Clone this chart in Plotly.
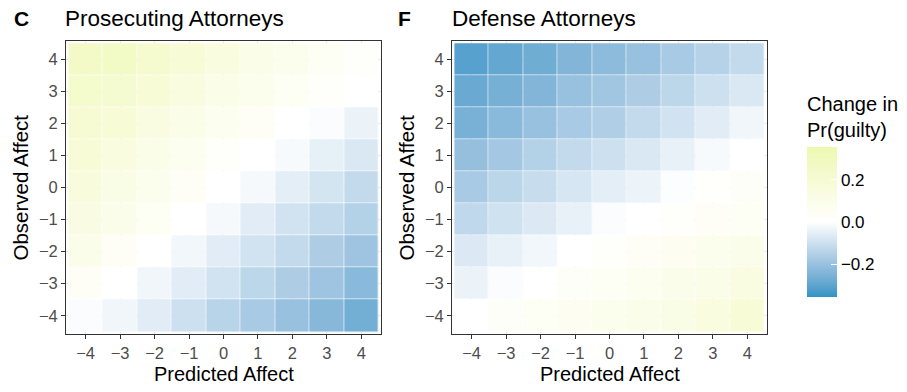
import plotly.graph_objects as go

# ---------------- data ----------------
predicted_affect = [-4, -3, -2, -1, 0, 1, 2, 3, 4]
observed_affect = [4, 3, 2, 1, 0, -1, -2, -3, -4]
tick_labels = ["\u22124", "\u22123", "\u22122", "\u22121", "0", "1", "2", "3", "4"]

# rows: observed affect 4 .. -4 ; columns: predicted affect -4 .. 4
prosecuting = [
    [0.25, 0.26, 0.22, 0.18, 0.15, 0.11, 0.08, 0.05, 0.02],
    [0.23, 0.21, 0.18, 0.15, 0.11, 0.08, 0.05, 0.02, 0.00],
    [0.20, 0.18, 0.14, 0.11, 0.07, 0.04, 0.00, -0.01, -0.04],
    [0.18, 0.15, 0.11, 0.07, 0.02, 0.00, -0.015, -0.05, -0.075],
    [0.16, 0.12, 0.08, 0.04, 0.00, -0.02, -0.055, -0.085, -0.12],
    [0.13, 0.09, 0.05, 0.00, -0.02, -0.06, -0.09, -0.12, -0.15],
    [0.09, 0.04, 0.00, -0.025, -0.06, -0.09, -0.12, -0.16, -0.19],
    [0.04, 0.00, -0.03, -0.06, -0.09, -0.13, -0.16, -0.19, -0.225],
    [-0.01, -0.03, -0.06, -0.10, -0.14, -0.17, -0.20, -0.23, -0.265],
]
defense = [
    [-0.31, -0.29, -0.27, -0.24, -0.22, -0.20, -0.17, -0.145, -0.12],
    [-0.28, -0.26, -0.24, -0.20, -0.185, -0.16, -0.13, -0.10, -0.075],
    [-0.255, -0.225, -0.20, -0.17, -0.155, -0.12, -0.09, -0.06, -0.03],
    [-0.205, -0.18, -0.15, -0.12, -0.10, -0.075, -0.045, -0.015, 0.00],
    [-0.17, -0.135, -0.11, -0.08, -0.055, -0.035, -0.005, 0.015, 0.03],
    [-0.125, -0.095, -0.07, -0.045, -0.01, 0.00, 0.02, 0.035, 0.05],
    [-0.07, -0.045, -0.025, 0.00, 0.02, 0.04, 0.06, 0.08, 0.09],
    [-0.04, -0.01, 0.00, 0.03, 0.05, 0.07, 0.09, 0.11, 0.14],
    [0.00, 0.03, 0.05, 0.06, 0.08, 0.10, 0.12, 0.15, 0.18],
]
scale_min, scale_max = -0.355, 0.355
cbar_vals = [-0.2, 0.0, 0.2]
cbar_text = ["\u22120.2", "0.0", "0.2"]

# ---------------- colour scale (Lab interpolation like ggplot) ----------------
LOW, MID, HIGH = "#2f94c6", "#ffffff", "#edf8b1"


def hex_to_rgb(h):
    h = h.lstrip("#")
    return [int(h[i:i + 2], 16) / 255 for i in (0, 2, 4)]


def srgb_to_lin(c):
    return c / 12.92 if c <= 0.04045 else ((c + 0.055) / 1.055) ** 2.4


def lin_to_srgb(c):
    c = max(0.0, min(1.0, c))
    return 12.92 * c if c <= 0.0031308 else 1.055 * c ** (1 / 2.4) - 0.055


def rgb_to_lab(rgb):
    r, g, b = [srgb_to_lin(c) for c in rgb]
    x = (0.4124 * r + 0.3576 * g + 0.1805 * b) / 0.95047
    y = (0.2126 * r + 0.7152 * g + 0.0722 * b)
    z = (0.0193 * r + 0.1192 * g + 0.9505 * b) / 1.08883

    def f(t):
        return t ** (1 / 3) if t > 0.008856 else 7.787 * t + 16 / 116
    fx, fy, fz = f(x), f(y), f(z)
    return [116 * fy - 16, 500 * (fx - fy), 200 * (fy - fz)]


def lab_to_rgb(lab):
    L, a, b = lab
    fy = (L + 16) / 116
    fx = fy + a / 500
    fz = fy - b / 200

    def finv(t):
        return t ** 3 if t ** 3 > 0.008856 else (t - 16 / 116) / 7.787
    x, y, z = finv(fx) * 0.95047, finv(fy), finv(fz) * 1.08883
    r = 3.2406 * x - 1.5372 * y - 0.4986 * z
    g = -0.9689 * x + 1.8758 * y + 0.0415 * z
    bb = 0.0557 * x - 0.2040 * y + 1.0570 * z
    return "rgb(%d,%d,%d)" % tuple(round(lin_to_srgb(c) * 255) for c in (r, g, bb))


def build_scale(n=10):
    lo, mi, hi = (rgb_to_lab(hex_to_rgb(c)) for c in (LOW, MID, HIGH))
    stops = []
    for i in range(n + 1):
        t = i / n
        stops.append([t / 2, lab_to_rgb([lo[k] + (mi[k] - lo[k]) * t for k in range(3)])])
    for i in range(1, n + 1):
        t = i / n
        stops.append([0.5 + t / 2, lab_to_rgb([mi[k] + (hi[k] - mi[k]) * t for k in range(3)])])
    return stops


colorscale = build_scale()

# ---------------- figure ----------------
W, H = 907, 392
FONT = "Liberation Sans, Arial, sans-serif"
fig = go.Figure()
fig.add_trace(go.Heatmap(x=predicted_affect, y=observed_affect, z=prosecuting,
                         coloraxis="coloraxis", xgap=0.6, ygap=0.6,
                         xaxis="x", yaxis="y"))
fig.add_trace(go.Heatmap(x=predicted_affect, y=observed_affect, z=defense,
                         coloraxis="coloraxis", xgap=0.6, ygap=0.6,
                         xaxis="x2", yaxis="y2"))

panel_top, panel_bot = 41, 334
ydom = [1 - panel_bot / H, 1 - panel_top / H]
c_dom = [66 / W, 381 / W]
f_dom = [452 / W, 767 / W]

axis_common = dict(
    range=[-4.57, 4.57], tickvals=predicted_affect, ticktext=tick_labels,
    ticks="outside", ticklen=4, tickwidth=1, tickcolor="#333333",
    tickfont=dict(family=FONT, size=16.5, color="#4d4d4d"),
    showline=True, mirror=True, linecolor="#333333", linewidth=1,
    showgrid=True, gridcolor="#ebebeb", zeroline=False, fixedrange=True,
)

fig.update_layout(
    width=W, height=H, margin=dict(l=0, r=0, t=0, b=0),
    paper_bgcolor="white", plot_bgcolor="white",
    font=dict(family=FONT, color="black"),
    xaxis=dict(domain=c_dom, anchor="y", **axis_common),
    yaxis=dict(domain=ydom, anchor="x", **axis_common),
    xaxis2=dict(domain=f_dom, anchor="y2", **axis_common),
    yaxis2=dict(domain=ydom, anchor="x2", **axis_common),
    coloraxis=dict(
        colorscale=colorscale, cmin=scale_min, cmax=scale_max,
        colorbar=dict(
            x=807 / W, xanchor="left", y=1 - 222 / H, yanchor="middle",
            len=150, lenmode="pixels", thickness=30, thicknessmode="pixels",
            outlinewidth=0, ticks="inside", ticklen=6, tickcolor="white",
            tickvals=cbar_vals, ticktext=cbar_text,
            tickfont=dict(family=FONT, size=17, color="black"), ypad=0, xpad=0,
        ),
    ),
)

ann = []
title_y = 1 - 19 / H
ann.append(dict(text="<b>C</b>", x=12 / W, y=title_y, xref="paper", yref="paper",
                xanchor="left", yanchor="middle", showarrow=False, font=dict(size=21)))
ann.append(dict(text="Prosecuting Attorneys", x=63 / W, y=title_y, xref="paper", yref="paper",
                xanchor="left", yanchor="middle", showarrow=False, font=dict(size=22.5)))
ann.append(dict(text="<b>F</b>", x=396 / W, y=title_y, xref="paper", yref="paper",
                xanchor="left", yanchor="middle", showarrow=False, font=dict(size=21)))
ann.append(dict(text="Defense Attorneys", x=450 / W, y=title_y, xref="paper", yref="paper",
                xanchor="left", yanchor="middle", showarrow=False, font=dict(size=22.5)))
ymid = 1 - (panel_top + panel_bot) / 2 / H
for xc in (20, 406):
    ann.append(dict(text="Observed Affect", x=xc / W, y=ymid, xref="paper", yref="paper",
                    xanchor="center", yanchor="middle", textangle=-90, showarrow=False,
                    font=dict(size=20.5)))
for dom in (c_dom, f_dom):
    ann.append(dict(text="Predicted Affect", x=(dom[0] + dom[1]) / 2, y=1 - 374 / H,
                    xref="paper", yref="paper", xanchor="center", yanchor="middle",
                    showarrow=False, font=dict(size=20)))
ann.append(dict(text="Change in<br>Pr(guilty)", x=805 / W, y=1 - 143 / H, xref="paper",
                yref="paper", xanchor="left", yanchor="bottom", align="left",
                showarrow=False, font=dict(size=20)))
fig.update_layout(annotations=ann)

fig.write_html("out.html", config={"displayModeBar": False},
               post_script="document.body.style.margin='0';")
